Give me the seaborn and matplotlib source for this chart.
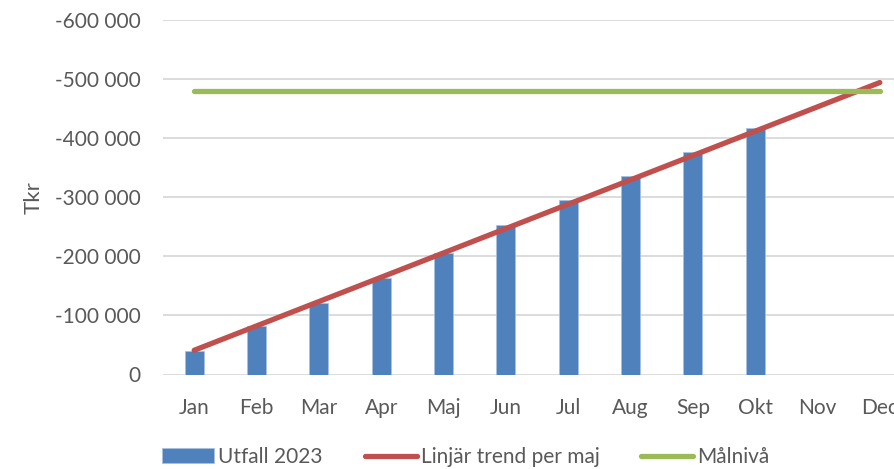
import matplotlib
matplotlib.use("Agg")
import matplotlib.pyplot as plt
import matplotlib.ticker as mticker
import seaborn as sns

months = ["Jan", "Feb", "Mar", "Apr", "Maj", "Jun", "Jul", "Aug", "Sep", "Okt", "Nov", "Dec"]
# values in tkr (negative, shown upward on inverted axis)
utfall = [-40500, -82000, -121500, -164000, -206000, -252500, -295000, -335500, -376000, -417500]
trend = [-41000, -82200, -123400, -164600, -205800, -247000, -288200, -329400, -370600, -411800, -453000, -494200]
malniva = [-480000] * 12

sns.set_style("white")
plt.rcParams["font.family"] = ["Lato", "DejaVu Sans"]

fig = plt.figure(figsize=(8.94, 4.69), dpi=100)
ax = fig.add_axes([163 / 894, 1 - 374.5 / 469, 748 / 894, (374.5 - 20) / 469])

sns.barplot(x=months[:10], y=utfall, order=months, color="#4f81bd",
            width=0.31, saturation=1, ax=ax, label="Utfall 2023",
            edgecolor="#a9c1e0", linewidth=0.6)
sns.lineplot(x=months, y=trend, sort=False, color="#c0504d", lw=3.8,
             solid_capstyle="round", ax=ax, label="Linjär trend per maj")
sns.lineplot(x=months, y=malniva, sort=False, color="#9bbb59", lw=3.8,
             solid_capstyle="round", ax=ax, label="Målnivå")

ax.set_ylim(0, -600000)
ax.set_xlim(-0.5, 11.5)
ax.set_yticks(range(0, -600001, -100000))
ax.yaxis.set_major_formatter(mticker.FuncFormatter(lambda v, p: f"{v:,.0f}".replace(",", " ")))
ax.grid(axis="y", color="#d9d9d9", lw=1.3)
ax.set_axisbelow(True)
sns.despine(ax=ax, left=True, bottom=True, top=True, right=True)
ax.tick_params(axis="both", length=0, labelsize=15, colors="#595959")
ax.tick_params(axis="x", pad=17)
ax.tick_params(axis="y", pad=16)
ax.set_xlabel("")
ax.set_ylabel("Tkr", fontsize=16, color="#595959", labelpad=8)

h, l = ax.get_legend_handles_labels()
ax.get_legend().remove()
bar_idx = l.index("Utfall 2023")
h = [h[bar_idx]] + [x for i, x in enumerate(h) if i != bar_idx]
l = [l[bar_idx]] + [x for i, x in enumerate(l) if i != bar_idx]
fig.legend(h, l, loc="center", bbox_to_anchor=(466 / 894, 1 - 457 / 469), ncol=3,
           frameon=False, fontsize=15, handlelength=2.5, handletextpad=0.2,
           columnspacing=2.0, labelcolor="#595959")

fig.savefig("out.png", dpi=100)
